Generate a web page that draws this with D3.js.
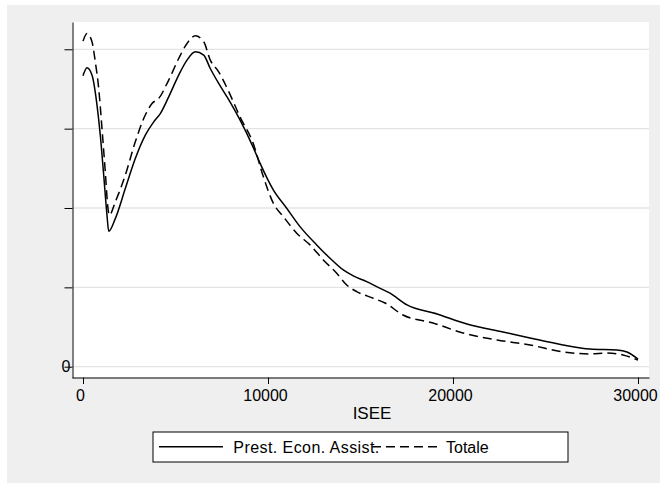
<!DOCTYPE html>
<html>
<head>
<meta charset="utf-8">
<script src="https://cdn.jsdelivr.net/npm/d3@7"></script>
<style>
  html, body { margin: 0; padding: 0; background: #ffffff; }
  svg { display: block; font-family: "Liberation Sans", Arial, sans-serif; }
</style>
</head>
<body>
<svg id="chart" width="660" height="483"></svg>
<script>
// ISEE values (x) for each series
const isee1 = [0, 216, 486, 757, 935, 1119, 1297, 1389, 1746, 2286, 2827, 3368, 3822, 4178, 4632, 5173, 5622, 6070, 6524, 6881, 7335, 7946, 8486, 9189, 9568, 10286, 11011, 11730, 12632, 13351, 14070, 14611, 15335, 15876, 16595, 17514, 19135, 20757, 22703, 24162, 25946, 27405, 28865, 29405, 30000];
const prestEcon = [3.666, 3.767, 3.675, 3.296, 2.918, 2.414, 1.909, 1.707, 1.866, 2.245, 2.623, 2.918, 3.086, 3.190, 3.401, 3.675, 3.864, 3.968, 3.927, 3.758, 3.569, 3.338, 3.111, 2.771, 2.565, 2.228, 1.997, 1.765, 1.535, 1.367, 1.219, 1.144, 1.072, 1.009, 0.926, 0.778, 0.665, 0.539, 0.438, 0.362, 0.274, 0.223, 0.211, 0.186, 0.097];

const isee2 = [0, 216, 486, 665, 849, 1027, 1205, 1351, 1422, 1746, 2286, 2827, 3281, 3730, 4092, 4632, 5173, 5622, 6070, 6524, 6881, 7335, 7784, 8486, 9189, 9746, 10286, 10827, 11551, 12270, 12989, 13714, 14254, 14795, 15692, 16324, 17297, 18919, 20541, 22378, 24162, 25946, 27405, 28324, 29189, 30000];
const totale = [4.103, 4.199, 4.095, 3.842, 3.506, 3.001, 2.455, 1.992, 1.909, 2.077, 2.414, 2.834, 3.127, 3.317, 3.380, 3.612, 3.884, 4.073, 4.170, 4.095, 3.864, 3.716, 3.514, 3.149, 2.821, 2.396, 2.061, 1.892, 1.682, 1.535, 1.346, 1.178, 1.030, 0.946, 0.863, 0.803, 0.652, 0.551, 0.425, 0.337, 0.274, 0.186, 0.161, 0.173, 0.148, 0.084];

const xTicks = [0, 10000, 20000, 30000];
const yTicks = [0, 1, 2, 3, 4];
const yTickLabels = ["0", "", "", "", ""];
const seriesNames = ["Prest. Econ. Assist.", "Totale"];
const xTitle = "ISEE";

const svg = d3.select("#chart");

// outer graph region
svg.append("rect").attr("x", 7).attr("y", 5).attr("width", 653).attr("height", 478).attr("fill", "#efefef");

const plot = { left: 72, right: 649, top: 22, bottom: 377.5 };
svg.append("rect").attr("x", plot.left).attr("y", plot.top)
  .attr("width", plot.right - plot.left).attr("height", plot.bottom - plot.top).attr("fill", "#ffffff");

const x = d3.scaleLinear().domain([-594.6, 30594.6]).range([plot.left, plot.right]);
const y = d3.scaleLinear().domain([-0.1386, 4.344]).range([377.7, 22]);

// gridlines
svg.append("g").selectAll("line").data(yTicks).join("line")
  .attr("x1", plot.left).attr("x2", plot.right)
  .attr("y1", d => y(d)).attr("y2", d => y(d))
  .attr("stroke", "#e4e4e4").attr("stroke-width", 1.3);

// curves
const line = d3.line().x(d => x(d[0])).y(d => y(d[1])).curve(d3.curveMonotoneX);
const s1 = isee1.map((v, i) => [v, prestEcon[i]]);
const s2 = isee2.map((v, i) => [v, totale[i]]);

svg.append("path").datum(s1).attr("d", line)
  .attr("fill", "none").attr("stroke", "#000").attr("stroke-width", 1.5);
svg.append("path").datum(s2).attr("d", line)
  .attr("fill", "none").attr("stroke", "#000").attr("stroke-width", 1.5)
  .attr("stroke-dasharray", "9,5");

// x axis
const xAxis = d3.axisBottom(x).tickValues(xTicks).tickFormat(d3.format("d"))
  .tickSizeInner(6.5).tickSizeOuter(0).tickPadding(6);
const gx = svg.append("g").attr("transform", "translate(0,377.5)").call(xAxis);
gx.select(".domain").attr("stroke", "#000").attr("stroke-width", 1);
gx.selectAll(".tick line").attr("stroke", "#000");
gx.selectAll(".tick text").attr("font-size", "16px").attr("fill", "#000")
  .attr("font-family", "'Liberation Sans', Arial, sans-serif").attr("dx", -3);

// y axis
const yAxis = d3.axisLeft(y).tickValues(yTicks).tickFormat((d, i) => yTickLabels[i])
  .tickSizeInner(8).tickSizeOuter(0).tickPadding(-6);
const gy = svg.append("g").attr("transform", "translate(72.5,0)").call(yAxis);
gy.select(".domain").attr("stroke", "#000").attr("stroke-width", 1);
gy.selectAll(".tick line").attr("stroke", "#000");
gy.selectAll(".tick text").attr("font-size", "16px").attr("fill", "#000")
  .attr("font-family", "'Liberation Sans', Arial, sans-serif");

// x title
svg.append("text").attr("x", 372).attr("y", 419.3).attr("text-anchor", "middle")
  .attr("font-size", "17px").attr("fill", "#000").text(xTitle);

// legend
const lg = svg.append("g");
lg.append("rect").attr("x", 153).attr("y", 432).attr("width", 415).attr("height", 30)
  .attr("fill", "#fff").attr("stroke", "#000").attr("stroke-width", 1);
lg.append("line").attr("x1", 159).attr("x2", 223).attr("y1", 446.7).attr("y2", 446.7)
  .attr("stroke", "#000").attr("stroke-width", 1.5);
lg.append("text").attr("x", 233.3).attr("y", 453.3).attr("font-size", "16px").attr("fill", "#000")
  .attr("textLength", 146).attr("lengthAdjust", "spacing")
  .text(seriesNames[0]);
lg.append("line").attr("x1", 372).attr("x2", 437).attr("y1", 446.7).attr("y2", 446.7)
  .attr("stroke", "#000").attr("stroke-width", 1.5).attr("stroke-dasharray", "9,5");
lg.append("text").attr("x", 446).attr("y", 453.3).attr("font-size", "16px").attr("fill", "#000")
  .text(seriesNames[1]);
</script>
</body>
</html>
